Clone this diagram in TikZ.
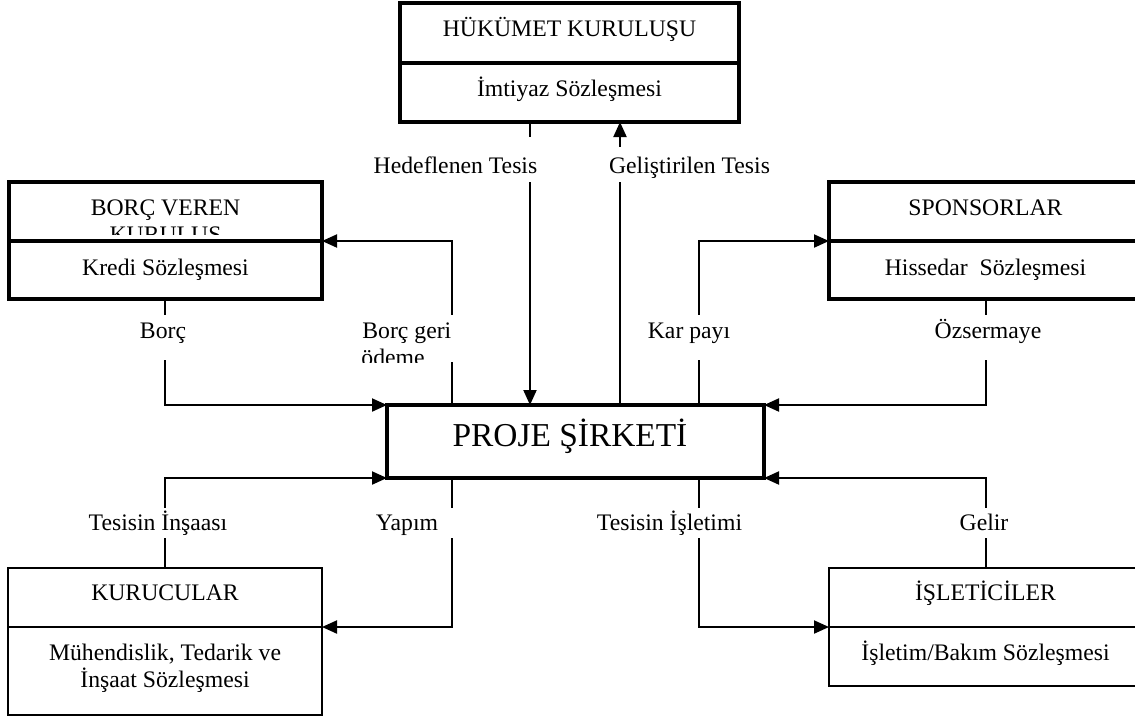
\documentclass[tikz,border=0pt]{standalone}
\usepackage{fontspec}
\setmainfont{Liberation Serif}
\usetikzlibrary{arrows.meta,calc}
\begin{document}
\begin{tikzpicture}[x=0.5pt,y=-0.5pt,
  thickbox/.style={draw,line width=2pt,inner sep=0pt,outer sep=0pt,anchor=north west},
  thinbox/.style={draw,line width=0.9pt,inner sep=0pt,outer sep=0pt,anchor=north west},
  txt/.style={font=\fontsize{11.85}{13.6}\selectfont,inner sep=0pt,anchor=base},
  bigtxt/.style={font=\fontsize{16.7}{19}\selectfont,inner sep=0pt,anchor=base},
  conn/.style={line width=1pt},
  arr/.style={conn,-{Triangle[length=7.5pt,width=6.5pt]}},
  lbl/.style={txt,fill=white,inner xsep=6pt,inner ysep=0pt},
  row0/.style={lbl,text height=18pt,text depth=4.5pt},
  row0b/.style={lbl,text height=13pt,text depth=4.5pt},
  row1/.style={lbl,text height=11.5pt,text depth=11pt},
  row2/.style={lbl,text height=11pt,text depth=4pt}
]
\clip (0,0) rectangle (1135,720);
\fill[white] (0,0) rectangle (1135,720);

% ---- x positions of connectors
\coordinate (xH) at (530,0);
\coordinate (xG) at (620,0);
\coordinate (xB) at (165,0);
\coordinate (xBG) at (452,0);
\coordinate (xK) at (699,0);
\coordinate (xO) at (986,0);

% ---- boxes
\node[thickbox,minimum width=169.5pt,minimum height=59.5pt] (gov) at (400,3) {};
\node[thickbox,minimum width=156.5pt,minimum height=58.5pt] (borc) at (9,182) {};
\node[thickbox,minimum width=156.5pt,minimum height=58.5pt] (spon) at (829,182) {};
\node[thickbox,minimum width=188.5pt,minimum height=36.5pt] (proje) at (387,405) {};
\node[thinbox,minimum width=157pt,minimum height=73.5pt] (kur) at (8,568) {};
\node[thinbox,minimum width=156.5pt,minimum height=59pt] (isl) at (829,568) {};

% ---- dividers
\coordinate (govDivW) at (400,63);  \coordinate (govDivE) at (739,63);
\coordinate (borcDivW) at (9,241);  \coordinate (borcDivE) at (322,241);
\coordinate (sponDivW) at (829,241); \coordinate (sponDivE) at (1142,241);
\coordinate (kurDivW) at (8,627);   \coordinate (kurDivE) at (322,627);
\coordinate (isDivW) at (829,627);  \coordinate (isDivE) at (1142,627);
\draw[line width=2pt] (govDivW) -- (govDivE);
\draw[line width=2pt] (borcDivW) -- (borcDivE);
\draw[line width=2pt] (sponDivW) -- (sponDivE);
\draw[line width=0.9pt] (kurDivW) -- (kurDivE);
\draw[line width=0.9pt] (isDivW) -- (isDivE);

% ---- box texts
\node[txt] (govT) at (569.5,36) {HÜKÜMET KURULUŞU};
\node[txt] (govC) at (569.5,96) {İmtiyaz Sözleşmesi};
\node[txt] (borcT) at (165.5,215) {BORÇ VEREN};
\begin{scope}
  \clip (9,182) rectangle (322,234);
  \node[txt] (borcT2) at (165.5,242) {KURULUŞ};
\end{scope}
\node[txt] (borcC) at (165.5,275) {Kredi Sözleşmesi};
\node[txt] (sponT) at (985.5,215) {SPONSORLAR};
\node[txt] (sponC) at (985.5,275) {Hissedar\ \ Sözleşmesi};
\node[bigtxt] (projeT) at (570,446) {PROJE ŞİRKETİ};
\node[txt] (kurT) at (165,600) {KURUCULAR};
\node[txt] (kurC1) at (165,660) {Mühendislik, Tedarik ve};
\node[txt] (kurC2) at (165,687) {İnşaat Sözleşmesi};
\node[txt] (islT) at (985.5,600) {İŞLETİCİLER};
\node[txt] (islC) at (985.5,660) {İşletim/Bakım Sözleşmesi};

% ---- connectors
\draw[arr] (gov.south -| xH) -- (proje.north -| xH);
\draw[arr] (proje.north -| xG) -- (gov.south -| xG);
\draw[arr] (borc.south -| xB) |- (proje.north west);
\draw[arr] (proje.north -| xBG) |- (borcDivE);
\draw[arr] (proje.north -| xK) |- (sponDivW);
\draw[arr] (spon.south -| xO) |- (proje.north east);
\draw[arr] (kur.north -| xB) |- (proje.south west);
\draw[arr] (proje.south -| xBG) |- (kurDivE);
\draw[arr] (proje.south -| xK) |- (isDivW);
\draw[arr] (isl.north -| xO) |- (proje.south east);

% ---- connector labels
\node[row0] (lH) at (455.5,173) {Hedeflenen Tesis};
\node[row0b] (lG) at (689.5,173) {Geliştirilen Tesis};
\node[row1] (lB) at (163,338) {Borç};
\begin{scope}
  \clip (340,315) rectangle (470,362);
  \fill[white] (345,315) rectangle (462,362);
  \node[txt,anchor=base west] (lBG1) at (362,338) {Borç geri};
  \node[txt,anchor=base west] (lBG2) at (361,365) {ödeme};
\end{scope}
\node[row1] (lK) at (689,338) {Kar payı};
\node[row1] (lO) at (988,338) {Özsermaye};
\node[row2] (lTI) at (158,530) {Tesisin İnşaası};
\node[row2,inner xsep=10pt] (lY) at (407,530) {Yapım};
\node[row2] (lTIs) at (669.5,530) {Tesisin İşletimi};
\node[row2] (lGe) at (984,530) {Gelir};
\end{tikzpicture}
\end{document}
